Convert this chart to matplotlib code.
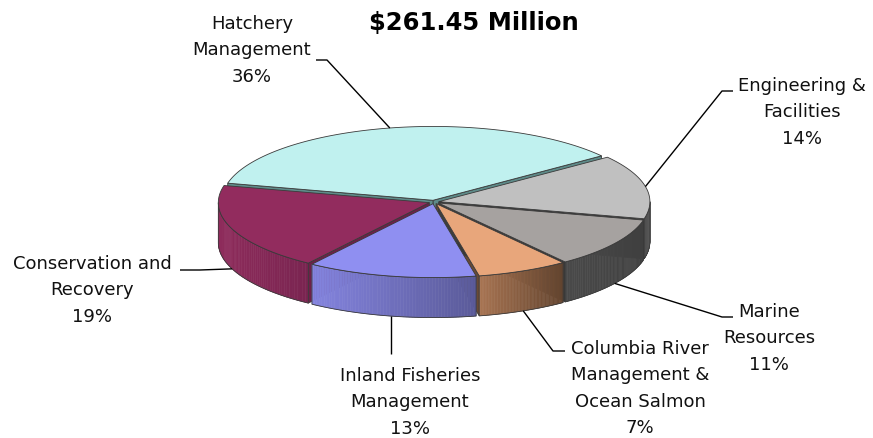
import numpy as np
import matplotlib
matplotlib.use("Agg")
import matplotlib.pyplot as plt
from matplotlib.patches import Polygon
from matplotlib.colors import to_rgb

# Operating budget by activity, percent of the total
categories = ["Hatchery\nManagement", "Conservation and\nRecovery",
              "Inland Fisheries\nManagement",
              "Columbia River\nManagement &\nOcean Salmon",
              "Marine\nResources", "Engineering &\nFacilities"]
shares = [36, 19, 13, 7, 11, 14]
title_text = "Fish Program Operating Budget\n$261.45 Million"

# colours: top face, side gradient (left -> right), radial wall
top_colors = ["#C0F1EF", "#922C5E", "#8F8FF1", "#E8A67B", "#A6A2A0", "#C0C0C0"]
side_left = ["#7FA8A6", "#8E2B5B", "#8484DF", "#A87452", "#4A4A4A", "#4C4C4C"]
side_right = ["#5F8F8D", "#7A2551", "#5A5A99", "#64452F", "#404040", "#585858"]
wall_colors = ["#5E8B89", "#6E2048", "#5A5A98", "#6A4A35", "#383838", "#3E3E3E"]

# label layout: (centre x, top y), leader polyline after the anchor point
label_pos = [(252, 15), (92.5, 255), (410, 367), (640, 340), (769, 303), (802, 77)]
leader_tail = [[(327, 60), (316, 60)],
               [(200, 270), (180, 270)],
               [None],
               [(553, 351), (565, 351)],
               [(722, 317), (733, 317)],
               [(722, 91), (733, 91)]]

W, H = 873, 438
fig = plt.figure(figsize=(W / 100, H / 100), dpi=100)
ax = fig.add_axes([0, 0, 1, 1])
ax.set_xlim(0, W)
ax.set_ylim(H, 0)
ax.axis("off")

# 3-D pie geometry (screen units)
cx, cy = 434.0, 202.0
R = 211.0
k = 0.35          # vertical squash of the tilted disc
depth = 40.0      # thickness of the disc
start = 37.0      # first wedge starts here, counter-clockwise
explode = 5.0
edge = "#3A3A3A"


def proj(theta_deg, r, z, off):
    t = np.radians(theta_deg)
    return (cx + off[0] + r * np.cos(t), cy + off[1] - k * r * np.sin(t) + z)


def mix(c1, c2, t):
    a, b = np.array(to_rgb(c1)), np.array(to_rgb(c2))
    return tuple(a + (b - a) * t)


total = float(sum(shares))
bounds = start + 360.0 * np.concatenate([[0], np.cumsum(shares)]) / total

slices = []
for i in range(len(shares)):
    a1, a2 = bounds[i], bounds[i + 1]
    m = 0.5 * (a1 + a2)
    off = (explode * np.cos(np.radians(m)), -k * explode * np.sin(np.radians(m)))
    slices.append((a1, a2, m, off))

# radial walls facing the viewer
for i, (a1, a2, m, off) in enumerate(slices):
    for a, normal in ((a1, a1 - 90), (a2, a2 + 90)):
        if np.sin(np.radians(normal)) < 0:
            pts = [proj(a, 0, 0, off), proj(a, R, 0, off),
                   proj(a, R, depth, off), proj(a, 0, depth, off)]
            ax.add_patch(Polygon(pts, closed=True, facecolor=wall_colors[i],
                                 edgecolor=edge, lw=0.6, zorder=1))

# outer rim on the front half, shaded left to right
for i, (a1, a2, m, off) in enumerate(slices):
    spans = []
    for n in range(-1, 3):
        lo, hi = max(a1, 180 + 360 * n), min(a2, 360 + 360 * n)
        if hi > lo:
            spans.append((lo, hi))
    for lo, hi in spans:
        th = np.linspace(lo, hi, 60)
        xs = np.array([proj(t, R, 0, off)[0] for t in th])
        x0, x1 = xs.min(), xs.max()
        for j in range(len(th) - 1):
            pts = [proj(th[j], R, 0, off), proj(th[j + 1], R, 0, off),
                   proj(th[j + 1], R, depth, off), proj(th[j], R, depth, off)]
            xm = 0.5 * (xs[j] + xs[j + 1])
            c = mix(side_left[i], side_right[i], (xm - x0) / max(x1 - x0, 1e-6))
            ax.add_patch(Polygon(pts, closed=True, facecolor=c, edgecolor=c,
                                 lw=0.4, zorder=2))
        outline = [proj(t, R, 0, off) for t in th] + \
                  [proj(t, R, depth, off) for t in th[::-1]]
        ax.add_patch(Polygon(outline, closed=True, facecolor="none",
                             edgecolor=edge, lw=0.6, zorder=2.5))

# top faces
for i, (a1, a2, m, off) in enumerate(slices):
    th = np.linspace(a1, a2, 120)
    pts = [proj(0, 0, 0, off)] + [proj(t, R, 0, off) for t in th]
    ax.add_patch(Polygon(pts, closed=True, facecolor=top_colors[i],
                         edgecolor=edge, lw=0.6, zorder=3))

# labels with leader lines
for i, (a1, a2, m, off) in enumerate(slices):
    z = 0 if np.sin(np.radians(m)) >= 0 else depth
    anchor = proj(m, R, z, off)
    tail = leader_tail[i]
    if tail[0] is None:
        tail = [(anchor[0], 354)]
    path = [anchor] + tail
    ax.plot([p[0] for p in path], [p[1] for p in path], color="black",
            lw=1.0, zorder=4, solid_capstyle="butt")
    lx, ly = label_pos[i]
    ax.text(lx, ly, f"{categories[i]}\n{shares[i]}%", ha="center", va="top",
            fontsize=13, family="DejaVu Sans", linespacing=1.6,
            color="#111111", zorder=5)

ax.text(474, -28, title_text, ha="center", va="top", fontsize=17.5,
        fontweight="bold", family="DejaVu Sans", linespacing=1.78,
        color="black", clip_on=False)

fig.savefig("out.png", dpi=100)
